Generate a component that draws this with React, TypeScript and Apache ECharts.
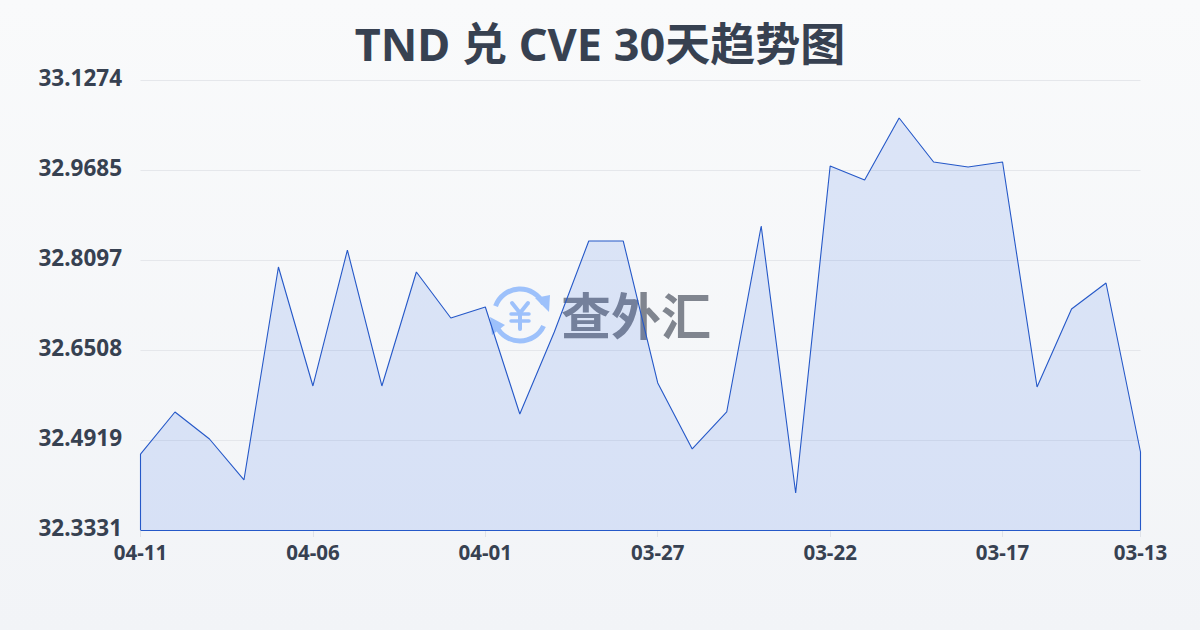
import React, { useEffect, useRef } from "react";
import * as echarts from "echarts";

const dates = ["04-11","04-10","04-09","04-08","04-07","04-06","04-05","04-04","04-03","04-02","04-01","03-31","03-30","03-29","03-28","03-27","03-26","03-25","03-24","03-23","03-22","03-21","03-20","03-19","03-18","03-17","03-16","03-15","03-14","03-13"];
const rates = [32.4672,32.5414,32.4937,32.4214,32.7973,32.5873,32.8273,32.5873,32.7885,32.7073,32.7267,32.5378,32.6826,32.8432,32.8432,32.5926,32.4761,32.5414,32.8697,32.3984,32.9756,32.9509,33.0603,32.9827,32.9738,32.9827,32.5855,32.7232,32.7691,32.4708];
const yTicks = [32.3331,32.4919,32.6508,32.8097,32.9685,33.1274];
const titleText = "TND 兑 CVE 30天趋势图";
const brandText = "查外汇";

const FONT = '"Noto Sans", "Noto Sans CJK SC", sans-serif';
const LINE = "#2558c8";
const yMin = yTicks[0];
const yMax = yTicks[yTicks.length - 1];
const last = dates.length - 1;

export default function App() {
  const ref = useRef<HTMLDivElement>(null);
  useEffect(() => {
    const chart = echarts.init(ref.current!, null, { renderer: "svg" });
    const blue = "#9dc1fb";
    chart.setOption({
      animation: false,
      backgroundColor: {
        type: "linear", x: 0, y: 0, x2: 0, y2: 1,
        colorStops: [{ offset: 0, color: "#f9fafb" }, { offset: 1, color: "#f2f4f7" }],
      },
      title: {
        text: titleText, left: "center", top: 16,
        textStyle: { fontFamily: FONT, fontSize: 45, fontWeight: "bold", color: "#374151" },
      },
      grid: { left: 140.5, right: 59.5, top: 80, bottom: 100 },
      xAxis: {
        type: "category", data: dates, boundaryGap: false,
        axisLine: { show: false },
        axisTick: { show: true, length: 7, interval: (i: number) => i % 5 === 0 || i === last, lineStyle: { color: "#dfe2e8" } },
        axisLabel: {
          interval: (i: number) => i % 5 === 0 || i === last,
          fontFamily: FONT, fontSize: 20.5, fontWeight: "bold", color: "#374151", margin: 12, hideOverlap: false,
        },
        splitLine: { show: false },
      },
      yAxis: {
        type: "value", min: yMin, max: yMax,
        axisLine: { show: false },
        axisTick: { show: false, customValues: yTicks },
        axisLabel: {
          customValues: yTicks,
          formatter: (v: number) => v.toFixed(4),
          fontFamily: FONT, fontSize: 22.5, fontWeight: "bold", color: "#374151", margin: 18.5, verticalAlign: "bottom", lineHeight: 5,
        },
        splitLine: { show: true, lineStyle: { color: "#e5e7eb", width: 1 } },
      },
      series: [{
        type: "line", data: rates, symbol: "none", smooth: false, z: 3,
        lineStyle: { color: LINE, width: 1.1 },
        areaStyle: { color: "rgba(37,99,235,0.19)", origin: "start" },
        markLine: {
          silent: true, symbol: "none", label: { show: false },
          lineStyle: { color: LINE, width: 1.1, type: "solid" },
          data: [
            [{ xAxis: 0, yAxis: yMin }, { xAxis: 0, yAxis: rates[0] }],
            [{ xAxis: last, yAxis: yMin }, { xAxis: last, yAxis: rates[last] }],
            [{ xAxis: 0, yAxis: yMin }, { xAxis: last, yAxis: yMin }],
          ],
        },
      }],
      graphic: [
        { type: "arc", z: 1, shape: { cx: 520, cy: 315, r: 26, startAngle: (200 * Math.PI) / 180, endAngle: (335 * Math.PI) / 180 }, style: { stroke: blue, lineWidth: 5, fill: "none" } },
        { type: "arc", z: 1, shape: { cx: 520, cy: 315, r: 26, startAngle: (25 * Math.PI) / 180, endAngle: (155 * Math.PI) / 180 }, style: { stroke: blue, lineWidth: 5, fill: "none" } },
        { type: "polygon", z: 1, shape: { points: [[535, 298], [550, 295], [549, 312]] }, style: { fill: blue } },
        { type: "polygon", z: 1, shape: { points: [[490, 317], [505, 325], [492, 335]] }, style: { fill: blue } },
        { type: "line", z: 1, shape: { x1: 512, y1: 303, x2: 520, y2: 313 }, style: { stroke: blue, lineWidth: 4, lineCap: "round" } },
        { type: "line", z: 1, shape: { x1: 528, y1: 303, x2: 520, y2: 313 }, style: { stroke: blue, lineWidth: 4, lineCap: "round" } },
        { type: "line", z: 1, shape: { x1: 520, y1: 313, x2: 520, y2: 329 }, style: { stroke: blue, lineWidth: 4, lineCap: "round" } },
        { type: "line", z: 1, shape: { x1: 511, y1: 314, x2: 529, y2: 314 }, style: { stroke: blue, lineWidth: 3.5, lineCap: "round" } },
        { type: "line", z: 1, shape: { x1: 511, y1: 321, x2: 529, y2: 321 }, style: { stroke: blue, lineWidth: 3.5, lineCap: "round" } },
        { type: "text", z: 1, style: { x: 561, y: 316, text: brandText, fontFamily: FONT, fontSize: 50, fontWeight: "bold", fill: "#80858f", verticalAlign: "middle" } },
      ],
    });
    return () => chart.dispose();
  }, []);
  return <div ref={ref} style={{ position: "fixed", left: 0, top: 0, width: 1200, height: 630 }} />;
}
